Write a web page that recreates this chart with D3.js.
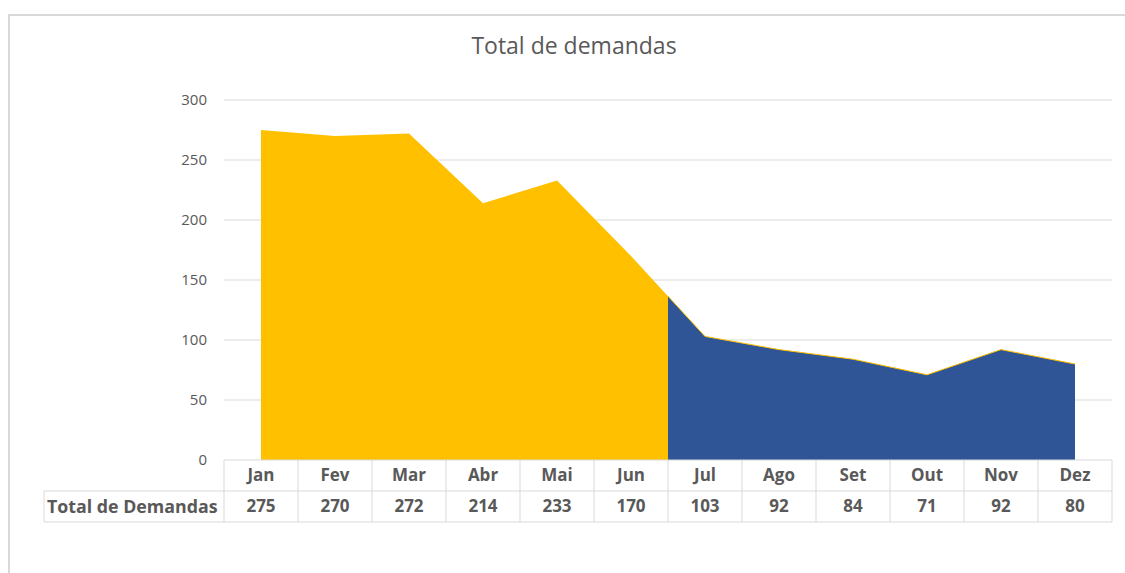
<!DOCTYPE html>
<html>
<head>
<meta charset="utf-8">
<script src="https://cdn.jsdelivr.net/npm/d3@7"></script>
<style>
  body { margin: 0; background: #fff; }
  text { font-family: "Open Sans", sans-serif; fill: #595959; }
</style>
</head>
<body>
<div id="chart"></div>
<script>
// months and totals (same as the data table)
const months = ["Jan", "Fev", "Mar", "Abr", "Mai", "Jun", "Jul", "Ago", "Set", "Out", "Nov", "Dez"]
const totals = [275, 270, 272, 214, 233, 170, 103, 92, 84, 71, 92, 80]
const yTicks = [0, 50, 100, 150, 200, 250, 300]
const seriesName = "Total de Demandas"
const title = "Total de demandas"
// the colour changes half way between Jun and Jul
const splitAfter = "Jun"

const width = 1125
const height = 573

const svg = d3.select("#chart").append("svg")
  .attr("width", width)
  .attr("height", height)

// chart frame
svg.append("path")
  .attr("d", `M9,${height} V15 H${width}`)
  .attr("fill", "none")
  .attr("stroke", "#d9d9d9")
  .attr("stroke-width", 2)

const x = d3.scaleBand().domain(months).range([224, 1112])
const y = d3.scaleLinear().domain([0, 300]).range([460, 100])
const cx = d => x(d) + x.bandwidth() / 2

// gridlines
svg.append("g")
  .selectAll("line")
  .data(yTicks.filter(d => d > 0))
  .join("line")
  .attr("x1", 224).attr("x2", 1112)
  .attr("y1", d => y(d)).attr("y2", d => y(d))
  .attr("stroke", "#d9d9d9")
  .attr("stroke-width", 1)

// y labels
svg.append("g")
  .selectAll("text")
  .data(yTicks)
  .join("text")
  .attr("x", 207)
  .attr("y", d => y(d))
  .attr("dy", "0.35em")
  .attr("text-anchor", "end")
  .attr("font-size", 15)
  .text(d => d)

const data = months.map((m, i) => ({ m, v: totals[i] }))

const area = d3.area()
  .x(d => cx(d.m))
  .y0(y(0))
  .y1(d => y(d.v))

const line = d3.line()
  .x(d => cx(d.m))
  .y(d => y(d.v))

const i0 = months.indexOf(splitAfter)
const splitX = (cx(months[i0]) + cx(months[i0 + 1])) / 2

const defs = svg.append("defs")
defs.append("clipPath").attr("id", "left")
  .append("rect").attr("x", 0).attr("y", 0).attr("width", splitX).attr("height", height)
defs.append("clipPath").attr("id", "right")
  .append("rect").attr("x", splitX).attr("y", 0).attr("width", width - splitX).attr("height", height)

svg.append("path")
  .datum(data)
  .attr("d", area)
  .attr("fill", "#ffc000")
  .attr("clip-path", "url(#left)")

svg.append("path")
  .datum(data)
  .attr("d", area)
  .attr("fill", "#2f5597")
  .attr("clip-path", "url(#right)")

// thin yellow edge on top of the blue part
svg.append("path")
  .datum(data)
  .attr("d", line)
  .attr("fill", "none")
  .attr("stroke", "#ffc000")
  .attr("stroke-width", 1)
  .attr("clip-path", "url(#right)")

// title
svg.append("text")
  .attr("x", 574)
  .attr("y", 54)
  .attr("text-anchor", "middle")
  .attr("font-size", 23)
  .text(title)

// data table
const tbl = svg.append("g").attr("stroke", "#d9d9d9").attr("stroke-width", 1)
const rowTop = 460, rowMid = 491, rowBot = 522, labelLeft = 44

tbl.append("line").attr("x1", 224).attr("x2", 1112).attr("y1", rowTop).attr("y2", rowTop)
tbl.append("line").attr("x1", labelLeft).attr("x2", 1112).attr("y1", rowMid).attr("y2", rowMid)
tbl.append("line").attr("x1", labelLeft).attr("x2", 1112).attr("y1", rowBot).attr("y2", rowBot)
tbl.append("line").attr("x1", labelLeft).attr("x2", labelLeft).attr("y1", rowMid).attr("y2", rowBot)
tbl.selectAll(".v")
  .data(months.map(m => x(m)).concat([1112]))
  .join("line")
  .attr("x1", d => d).attr("x2", d => d)
  .attr("y1", rowTop).attr("y2", rowBot)

svg.append("g")
  .selectAll("text")
  .data(months)
  .join("text")
  .attr("x", d => cx(d))
  .attr("y", (rowTop + rowMid) / 2)
  .attr("dy", "0.35em")
  .attr("text-anchor", "middle")
  .attr("font-size", 17)
  .attr("font-weight", "bold")
  .text(d => d)

svg.append("g")
  .selectAll("text")
  .data(data)
  .join("text")
  .attr("x", d => cx(d.m))
  .attr("y", (rowMid + rowBot) / 2)
  .attr("dy", "0.35em")
  .attr("text-anchor", "middle")
  .attr("font-size", 17)
  .attr("font-weight", "bold")
  .text(d => d.v)

svg.append("text")
  .attr("x", labelLeft + 3)
  .attr("y", (rowMid + rowBot) / 2)
  .attr("dy", "0.35em")
  .attr("font-size", 17.8)
  .attr("font-weight", "bold")
  .text(seriesName)
</script>
</body>
</html>
